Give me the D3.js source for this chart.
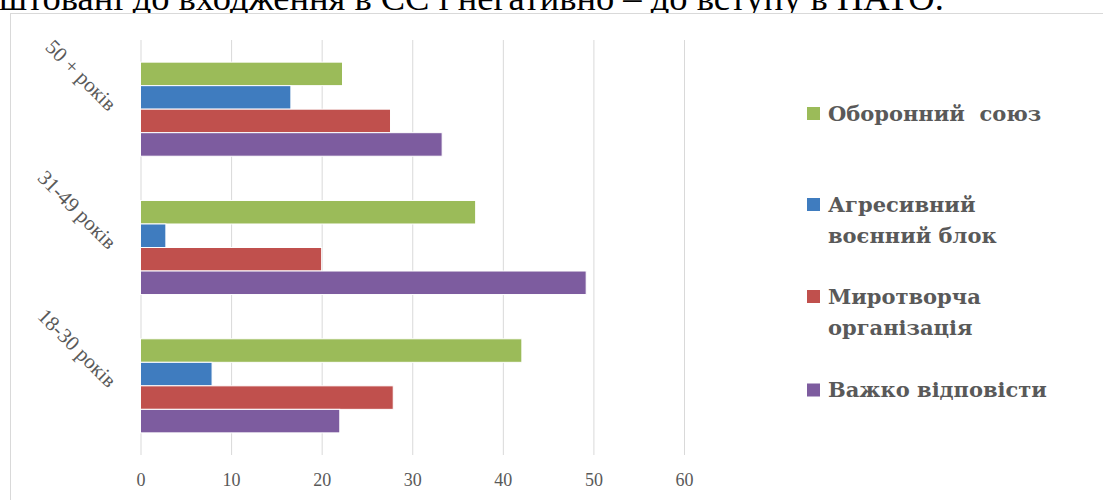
<!DOCTYPE html>
<html>
<head>
<meta charset="utf-8">
<script src="https://cdn.jsdelivr.net/npm/d3@7/dist/d3.min.js"></script>
<style>
  html, body { margin: 0; padding: 0; background: #fff; overflow: hidden; }
  svg { display: block; }
</style>
</head>
<body>
<svg id="chart" width="1103" height="500"></svg>
<script>
// Age groups, top to bottom
const categories = ["50 + років", "31-49 років", "18-30 років"];
// Series (legend order)
const seriesNames = ["Оборонний  союз", "Агресивний воєнний блок", "Миротворча організація", "Важко відповісти"];
const legendLines = [["Оборонний  союз"], ["Агресивний", "воєнний блок"], ["Миротворча", "організація"], ["Важко відповісти"]];
const seriesColors = ["#9BBB59", "#3F7CBF", "#C0504D", "#7D5C9F"];
// Values per series, in category order
const defenceUnion   = [22.3, 37.0, 42.1];
const aggressiveBloc = [16.6, 2.8, 7.9];
const peacekeeping   = [27.6, 20.0, 27.9];
const hardToSay      = [33.3, 49.2, 22.0];
const seriesValues = [defenceUnion, aggressiveBloc, peacekeeping, hardToSay];
const xTicks = [0, 10, 20, 30, 40, 50, 60];

const svg = d3.select("#chart");
const textGrey = "#595959";

// Caption line above the chart frame (continues from the previous line of the page)
const caption = svg.append("text")
  .attr("x", -1).attr("y", 10)
  .attr("font-family", "'Liberation Serif', 'Times New Roman', serif")
  .attr("font-size", 28)
  .attr("fill", "#000")
  .text("штовані до входження в ЄС і негативно – до вступу в НАТО.");
const capW = caption.node().getComputedTextLength();
caption.attr("font-size", 28 * 945 / capW);

// Chart frame
svg.append("rect")
  .attr("x", 10.5).attr("y", 13.5)
  .attr("width", 1110).attr("height", 520)
  .attr("fill", "#fff")
  .attr("stroke", "#d9d9d9").attr("stroke-width", 1);

const plot = { left: 140.5, right: 684, top: 40, bottom: 455 };

const x = d3.scaleLinear().domain([0, 60]).range([plot.left, plot.right]);
const y = d3.scaleBand().domain(categories).range([plot.top, plot.bottom])
  .paddingInner(0.32).paddingOuter(0.16);
const ySub = d3.scaleBand().domain(d3.range(seriesNames.length)).range([0, y.bandwidth()]);

// Vertical gridlines
svg.append("g")
  .attr("transform", `translate(0,${plot.bottom})`)
  .call(d3.axisBottom(x).tickValues(xTicks).tickSize(-(plot.bottom - plot.top)).tickFormat(""))
  .call(g => g.select(".domain").remove())
  .call(g => g.selectAll("line").attr("stroke", "#d9d9d9").attr("stroke-width", 1));

// Tick labels
svg.append("g")
  .attr("transform", `translate(0,486)`)
  .call(d3.axisBottom(x).tickValues(xTicks).tickSize(0).tickPadding(0))
  .call(g => g.select(".domain").remove())
  .call(g => g.selectAll("text")
    .attr("dy", 0)
    .attr("font-family", "'Liberation Serif', 'Times New Roman', serif")
    .attr("font-size", 18)
    .attr("fill", textGrey));

// Bars
const rows = [];
categories.forEach((c, ci) => {
  seriesValues.forEach((vals, si) => rows.push({ cat: c, si, v: vals[ci] }));
});
svg.append("g").selectAll("rect")
  .data(rows)
  .join("rect")
  .attr("x", x(0))
  .attr("y", d => y(d.cat) + ySub(d.si))
  .attr("width", d => x(d.v) - x(0))
  .attr("height", ySub.bandwidth())
  .attr("fill", d => seriesColors[d.si])
  .attr("stroke", "#fff")
  .attr("stroke-width", 1);

// Rotated category labels
svg.append("g").selectAll("text")
  .data(categories)
  .join("text")
  .attr("transform", d => `translate(108,${y(d) + y.bandwidth() / 2 + 3}) rotate(45)`)
  .attr("text-anchor", "end")
  .attr("font-family", "'Liberation Serif', 'Times New Roman', serif")
  .attr("font-size", 21)
  .attr("fill", textGrey)
  .text(d => d);

// Legend
const legendTop = [113.5, 204.5, 296.5, 390];
const legend = svg.append("g");
legendLines.forEach((lines, i) => {
  const g = legend.append("g");
  g.append("rect")
    .attr("x", 807).attr("y", legendTop[i] - 6.5)
    .attr("width", 13).attr("height", 13)
    .attr("fill", seriesColors[i]);
  const t = g.append("text")
    .attr("font-family", "'DejaVu Serif', serif")
    .attr("font-weight", "bold")
    .attr("font-size", 21)
    .attr("fill", textGrey)
    .style("white-space", "pre");
  lines.forEach((ln, k) => {
    t.append("tspan")
      .attr("x", 828)
      .attr("y", legendTop[i] + 7 + k * 31)
      .text(ln);
  });
});
</script>
</body>
</html>
